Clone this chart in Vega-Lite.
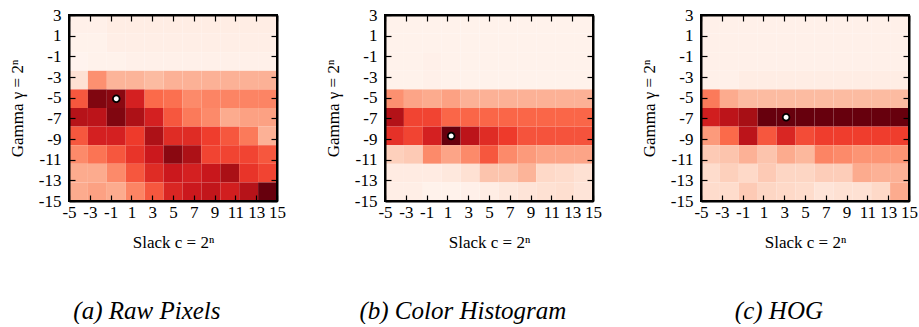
{
"$schema": "https://vega.github.io/schema/vega-lite/v6.json",
"padding": {"left": 8, "top": 6, "right": 0, "bottom": 0},
"spacing": 38,
"config": {
  "font": "Liberation Serif",
  "view": {"stroke": null},
  "axis": {"zindex": 2, "domain": true, "domainColor": "black", "domainWidth": 2, "ticks": true, "tickColor": "black", "tickWidth": 1.2, "tickSize": -6, "labelColor": "black", "labelFontSize": 17, "labelFont": "Liberation Serif", "titleFont": "Liberation Serif", "titleFontSize": 17, "titleFontWeight": "normal", "titleColor": "black", "grid": false, "labelOverlap": false, "labelFlush": false},
  "axisX": {"titlePadding": 14, "labelPadding": 9},
  "axisY": {"titlePadding": 12, "labelPadding": 14},
  "title": {"font": "Liberation Serif", "fontSize": 25, "fontStyle": "italic", "fontWeight": "normal", "color": "black", "orient": "bottom", "anchor": "middle", "frame": "bounds", "offset": 49}
},
"datasets": {
  "best": [
    {"p": "a", "c": -1, "g": -5},
    {"p": "b", "c": 1, "g": -9},
    {"p": "c", "c": 3, "g": -7}
  ],
  "cells": [
{"p":"a","c":-5,"g":3,"v":0.03},{"p":"a","c":-3,"g":3,"v":0.03},{"p":"a","c":-1,"g":3,"v":0.05},{"p":"a","c":1,"g":3,"v":0.05},{"p":"a","c":3,"g":3,"v":0.05},{"p":"a","c":5,"g":3,"v":0.05},{"p":"a","c":7,"g":3,"v":0.05},{"p":"a","c":9,"g":3,"v":0.05},{"p":"a","c":11,"g":3,"v":0.05},{"p":"a","c":13,"g":3,"v":0.05},{"p":"a","c":15,"g":3,"v":0.05},
{"p":"a","c":-5,"g":1,"v":0.02},{"p":"a","c":-3,"g":1,"v":0.02},{"p":"a","c":-1,"g":1,"v":0.04},{"p":"a","c":1,"g":1,"v":0.04},{"p":"a","c":3,"g":1,"v":0.04},{"p":"a","c":5,"g":1,"v":0.04},{"p":"a","c":7,"g":1,"v":0.04},{"p":"a","c":9,"g":1,"v":0.04},{"p":"a","c":11,"g":1,"v":0.04},{"p":"a","c":13,"g":1,"v":0.04},{"p":"a","c":15,"g":1,"v":0.04},
{"p":"a","c":-5,"g":-1,"v":0.01},{"p":"a","c":-3,"g":-1,"v":0.02},{"p":"a","c":-1,"g":-1,"v":0.02},{"p":"a","c":1,"g":-1,"v":0.03},{"p":"a","c":3,"g":-1,"v":0.03},{"p":"a","c":5,"g":-1,"v":0.03},{"p":"a","c":7,"g":-1,"v":0.03},{"p":"a","c":9,"g":-1,"v":0.03},{"p":"a","c":11,"g":-1,"v":0.03},{"p":"a","c":13,"g":-1,"v":0.03},{"p":"a","c":15,"g":-1,"v":0.03},
{"p":"a","c":-5,"g":-3,"v":0.12},{"p":"a","c":-3,"g":-3,"v":0.38},{"p":"a","c":-1,"g":-3,"v":0.27},{"p":"a","c":1,"g":-3,"v":0.27},{"p":"a","c":3,"g":-3,"v":0.25},{"p":"a","c":5,"g":-3,"v":0.28},{"p":"a","c":7,"g":-3,"v":0.28},{"p":"a","c":9,"g":-3,"v":0.28},{"p":"a","c":11,"g":-3,"v":0.28},{"p":"a","c":13,"g":-3,"v":0.28},{"p":"a","c":15,"g":-3,"v":0.28},
{"p":"a","c":-5,"g":-5,"v":0.55},{"p":"a","c":-3,"g":-5,"v":0.95},{"p":"a","c":-1,"g":-5,"v":0.93},{"p":"a","c":1,"g":-5,"v":0.72},{"p":"a","c":3,"g":-5,"v":0.5},{"p":"a","c":5,"g":-5,"v":0.48},{"p":"a","c":7,"g":-5,"v":0.4},{"p":"a","c":9,"g":-5,"v":0.42},{"p":"a","c":11,"g":-5,"v":0.42},{"p":"a","c":13,"g":-5,"v":0.42},{"p":"a","c":15,"g":-5,"v":0.42},
{"p":"a","c":-5,"g":-7,"v":0.82},{"p":"a","c":-3,"g":-7,"v":0.8},{"p":"a","c":-1,"g":-7,"v":0.95},{"p":"a","c":1,"g":-7,"v":0.85},{"p":"a","c":3,"g":-7,"v":0.72},{"p":"a","c":5,"g":-7,"v":0.55},{"p":"a","c":7,"g":-7,"v":0.45},{"p":"a","c":9,"g":-7,"v":0.4},{"p":"a","c":11,"g":-7,"v":0.3},{"p":"a","c":13,"g":-7,"v":0.33},{"p":"a","c":15,"g":-7,"v":0.33},
{"p":"a","c":-5,"g":-9,"v":0.55},{"p":"a","c":-3,"g":-9,"v":0.72},{"p":"a","c":-1,"g":-9,"v":0.72},{"p":"a","c":1,"g":-9,"v":0.63},{"p":"a","c":3,"g":-9,"v":0.85},{"p":"a","c":5,"g":-9,"v":0.68},{"p":"a","c":7,"g":-9,"v":0.68},{"p":"a","c":9,"g":-9,"v":0.62},{"p":"a","c":11,"g":-9,"v":0.55},{"p":"a","c":13,"g":-9,"v":0.45},{"p":"a","c":15,"g":-9,"v":0.28},
{"p":"a","c":-5,"g":-11,"v":0.4},{"p":"a","c":-3,"g":-11,"v":0.47},{"p":"a","c":-1,"g":-11,"v":0.55},{"p":"a","c":1,"g":-11,"v":0.65},{"p":"a","c":3,"g":-11,"v":0.75},{"p":"a","c":5,"g":-11,"v":0.93},{"p":"a","c":7,"g":-11,"v":0.85},{"p":"a","c":9,"g":-11,"v":0.6},{"p":"a","c":11,"g":-11,"v":0.6},{"p":"a","c":13,"g":-11,"v":0.6},{"p":"a","c":15,"g":-11,"v":0.55},
{"p":"a","c":-5,"g":-13,"v":0.3},{"p":"a","c":-3,"g":-13,"v":0.3},{"p":"a","c":-1,"g":-13,"v":0.4},{"p":"a","c":1,"g":-13,"v":0.55},{"p":"a","c":3,"g":-13,"v":0.68},{"p":"a","c":5,"g":-13,"v":0.75},{"p":"a","c":7,"g":-13,"v":0.72},{"p":"a","c":9,"g":-13,"v":0.76},{"p":"a","c":11,"g":-13,"v":0.86},{"p":"a","c":13,"g":-13,"v":0.65},{"p":"a","c":15,"g":-13,"v":0.6},
{"p":"a","c":-5,"g":-15,"v":0.3},{"p":"a","c":-3,"g":-15,"v":0.33},{"p":"a","c":-1,"g":-15,"v":0.3},{"p":"a","c":1,"g":-15,"v":0.42},{"p":"a","c":3,"g":-15,"v":0.55},{"p":"a","c":5,"g":-15,"v":0.7},{"p":"a","c":7,"g":-15,"v":0.75},{"p":"a","c":9,"g":-15,"v":0.78},{"p":"a","c":11,"g":-15,"v":0.73},{"p":"a","c":13,"g":-15,"v":0.82},{"p":"a","c":15,"g":-15,"v":1.0},
{"p":"b","c":-5,"g":3,"v":0.02},{"p":"b","c":-3,"g":3,"v":0.02},{"p":"b","c":-1,"g":3,"v":0.02},{"p":"b","c":1,"g":3,"v":0.02},{"p":"b","c":3,"g":3,"v":0.02},{"p":"b","c":5,"g":3,"v":0.02},{"p":"b","c":7,"g":3,"v":0.02},{"p":"b","c":9,"g":3,"v":0.02},{"p":"b","c":11,"g":3,"v":0.02},{"p":"b","c":13,"g":3,"v":0.02},{"p":"b","c":15,"g":3,"v":0.02},
{"p":"b","c":-5,"g":1,"v":0.02},{"p":"b","c":-3,"g":1,"v":0.02},{"p":"b","c":-1,"g":1,"v":0.02},{"p":"b","c":1,"g":1,"v":0.02},{"p":"b","c":3,"g":1,"v":0.02},{"p":"b","c":5,"g":1,"v":0.02},{"p":"b","c":7,"g":1,"v":0.02},{"p":"b","c":9,"g":1,"v":0.02},{"p":"b","c":11,"g":1,"v":0.02},{"p":"b","c":13,"g":1,"v":0.02},{"p":"b","c":15,"g":1,"v":0.02},
{"p":"b","c":-5,"g":-1,"v":0.02},{"p":"b","c":-3,"g":-1,"v":0.02},{"p":"b","c":-1,"g":-1,"v":0.03},{"p":"b","c":1,"g":-1,"v":0.02},{"p":"b","c":3,"g":-1,"v":0.02},{"p":"b","c":5,"g":-1,"v":0.02},{"p":"b","c":7,"g":-1,"v":0.02},{"p":"b","c":9,"g":-1,"v":0.02},{"p":"b","c":11,"g":-1,"v":0.02},{"p":"b","c":13,"g":-1,"v":0.02},{"p":"b","c":15,"g":-1,"v":0.02},
{"p":"b","c":-5,"g":-3,"v":0.02},{"p":"b","c":-3,"g":-3,"v":0.02},{"p":"b","c":-1,"g":-3,"v":0.03},{"p":"b","c":1,"g":-3,"v":0.02},{"p":"b","c":3,"g":-3,"v":0.02},{"p":"b","c":5,"g":-3,"v":0.02},{"p":"b","c":7,"g":-3,"v":0.02},{"p":"b","c":9,"g":-3,"v":0.02},{"p":"b","c":11,"g":-3,"v":0.02},{"p":"b","c":13,"g":-3,"v":0.02},{"p":"b","c":15,"g":-3,"v":0.02},
{"p":"b","c":-5,"g":-5,"v":0.38},{"p":"b","c":-3,"g":-5,"v":0.32},{"p":"b","c":-1,"g":-5,"v":0.3},{"p":"b","c":1,"g":-5,"v":0.33},{"p":"b","c":3,"g":-5,"v":0.28},{"p":"b","c":5,"g":-5,"v":0.28},{"p":"b","c":7,"g":-5,"v":0.28},{"p":"b","c":9,"g":-5,"v":0.28},{"p":"b","c":11,"g":-5,"v":0.28},{"p":"b","c":13,"g":-5,"v":0.28},{"p":"b","c":15,"g":-5,"v":0.28},
{"p":"b","c":-5,"g":-7,"v":0.83},{"p":"b","c":-3,"g":-7,"v":0.6},{"p":"b","c":-1,"g":-7,"v":0.6},{"p":"b","c":1,"g":-7,"v":0.51},{"p":"b","c":3,"g":-7,"v":0.51},{"p":"b","c":5,"g":-7,"v":0.51},{"p":"b","c":7,"g":-7,"v":0.51},{"p":"b","c":9,"g":-7,"v":0.51},{"p":"b","c":11,"g":-7,"v":0.51},{"p":"b","c":13,"g":-7,"v":0.51},{"p":"b","c":15,"g":-7,"v":0.51},
{"p":"b","c":-5,"g":-9,"v":0.66},{"p":"b","c":-3,"g":-9,"v":0.6},{"p":"b","c":-1,"g":-9,"v":0.72},{"p":"b","c":1,"g":-9,"v":1.0},{"p":"b","c":3,"g":-9,"v":0.8},{"p":"b","c":5,"g":-9,"v":0.68},{"p":"b","c":7,"g":-9,"v":0.63},{"p":"b","c":9,"g":-9,"v":0.56},{"p":"b","c":11,"g":-9,"v":0.56},{"p":"b","c":13,"g":-9,"v":0.56},{"p":"b","c":15,"g":-9,"v":0.56},
{"p":"b","c":-5,"g":-11,"v":0.18},{"p":"b","c":-3,"g":-11,"v":0.2},{"p":"b","c":-1,"g":-11,"v":0.4},{"p":"b","c":1,"g":-11,"v":0.32},{"p":"b","c":3,"g":-11,"v":0.4},{"p":"b","c":5,"g":-11,"v":0.55},{"p":"b","c":7,"g":-11,"v":0.4},{"p":"b","c":9,"g":-11,"v":0.35},{"p":"b","c":11,"g":-11,"v":0.32},{"p":"b","c":13,"g":-11,"v":0.32},{"p":"b","c":15,"g":-11,"v":0.32},
{"p":"b","c":-5,"g":-13,"v":0.06},{"p":"b","c":-3,"g":-13,"v":0.06},{"p":"b","c":-1,"g":-13,"v":0.06},{"p":"b","c":1,"g":-13,"v":0.08},{"p":"b","c":3,"g":-13,"v":0.12},{"p":"b","c":5,"g":-13,"v":0.22},{"p":"b","c":7,"g":-13,"v":0.22},{"p":"b","c":9,"g":-13,"v":0.27},{"p":"b","c":11,"g":-13,"v":0.15},{"p":"b","c":13,"g":-13,"v":0.14},{"p":"b","c":15,"g":-13,"v":0.12},
{"p":"b","c":-5,"g":-15,"v":0.04},{"p":"b","c":-3,"g":-15,"v":0.04},{"p":"b","c":-1,"g":-15,"v":0.02},{"p":"b","c":1,"g":-15,"v":0.02},{"p":"b","c":3,"g":-15,"v":0.03},{"p":"b","c":5,"g":-15,"v":0.05},{"p":"b","c":7,"g":-15,"v":0.08},{"p":"b","c":9,"g":-15,"v":0.1},{"p":"b","c":11,"g":-15,"v":0.12},{"p":"b","c":13,"g":-15,"v":0.13},{"p":"b","c":15,"g":-15,"v":0.1},
{"p":"c","c":-5,"g":3,"v":0.03},{"p":"c","c":-3,"g":3,"v":0.03},{"p":"c","c":-1,"g":3,"v":0.03},{"p":"c","c":1,"g":3,"v":0.03},{"p":"c","c":3,"g":3,"v":0.03},{"p":"c","c":5,"g":3,"v":0.03},{"p":"c","c":7,"g":3,"v":0.03},{"p":"c","c":9,"g":3,"v":0.03},{"p":"c","c":11,"g":3,"v":0.03},{"p":"c","c":13,"g":3,"v":0.03},{"p":"c","c":15,"g":3,"v":0.03},
{"p":"c","c":-5,"g":1,"v":0.03},{"p":"c","c":-3,"g":1,"v":0.03},{"p":"c","c":-1,"g":1,"v":0.03},{"p":"c","c":1,"g":1,"v":0.03},{"p":"c","c":3,"g":1,"v":0.03},{"p":"c","c":5,"g":1,"v":0.03},{"p":"c","c":7,"g":1,"v":0.03},{"p":"c","c":9,"g":1,"v":0.03},{"p":"c","c":11,"g":1,"v":0.03},{"p":"c","c":13,"g":1,"v":0.03},{"p":"c","c":15,"g":1,"v":0.03},
{"p":"c","c":-5,"g":-1,"v":0.03},{"p":"c","c":-3,"g":-1,"v":0.03},{"p":"c","c":-1,"g":-1,"v":0.03},{"p":"c","c":1,"g":-1,"v":0.03},{"p":"c","c":3,"g":-1,"v":0.03},{"p":"c","c":5,"g":-1,"v":0.03},{"p":"c","c":7,"g":-1,"v":0.03},{"p":"c","c":9,"g":-1,"v":0.03},{"p":"c","c":11,"g":-1,"v":0.03},{"p":"c","c":13,"g":-1,"v":0.03},{"p":"c","c":15,"g":-1,"v":0.03},
{"p":"c","c":-5,"g":-3,"v":0.03},{"p":"c","c":-3,"g":-3,"v":0.03},{"p":"c","c":-1,"g":-3,"v":0.05},{"p":"c","c":1,"g":-3,"v":0.05},{"p":"c","c":3,"g":-3,"v":0.05},{"p":"c","c":5,"g":-3,"v":0.05},{"p":"c","c":7,"g":-3,"v":0.05},{"p":"c","c":9,"g":-3,"v":0.05},{"p":"c","c":11,"g":-3,"v":0.05},{"p":"c","c":13,"g":-3,"v":0.05},{"p":"c","c":15,"g":-3,"v":0.05},
{"p":"c","c":-5,"g":-5,"v":0.45},{"p":"c","c":-3,"g":-5,"v":0.3},{"p":"c","c":-1,"g":-5,"v":0.25},{"p":"c","c":1,"g":-5,"v":0.25},{"p":"c","c":3,"g":-5,"v":0.25},{"p":"c","c":5,"g":-5,"v":0.25},{"p":"c","c":7,"g":-5,"v":0.25},{"p":"c","c":9,"g":-5,"v":0.25},{"p":"c","c":11,"g":-5,"v":0.25},{"p":"c","c":13,"g":-5,"v":0.25},{"p":"c","c":15,"g":-5,"v":0.25},
{"p":"c","c":-5,"g":-7,"v":0.73},{"p":"c","c":-3,"g":-7,"v":0.8},{"p":"c","c":-1,"g":-7,"v":0.87},{"p":"c","c":1,"g":-7,"v":1.0},{"p":"c","c":3,"g":-7,"v":1.0},{"p":"c","c":5,"g":-7,"v":1.0},{"p":"c","c":7,"g":-7,"v":1.0},{"p":"c","c":9,"g":-7,"v":1.0},{"p":"c","c":11,"g":-7,"v":1.0},{"p":"c","c":13,"g":-7,"v":1.0},{"p":"c","c":15,"g":-7,"v":1.0},
{"p":"c","c":-5,"g":-9,"v":0.35},{"p":"c","c":-3,"g":-9,"v":0.5},{"p":"c","c":-1,"g":-9,"v":0.8},{"p":"c","c":1,"g":-9,"v":0.55},{"p":"c","c":3,"g":-9,"v":0.7},{"p":"c","c":5,"g":-9,"v":0.58},{"p":"c","c":7,"g":-9,"v":0.62},{"p":"c","c":9,"g":-9,"v":0.62},{"p":"c","c":11,"g":-9,"v":0.62},{"p":"c","c":13,"g":-9,"v":0.62},{"p":"c","c":15,"g":-9,"v":0.62},
{"p":"c","c":-5,"g":-11,"v":0.2},{"p":"c","c":-3,"g":-11,"v":0.22},{"p":"c","c":-1,"g":-11,"v":0.28},{"p":"c","c":1,"g":-11,"v":0.22},{"p":"c","c":3,"g":-11,"v":0.3},{"p":"c","c":5,"g":-11,"v":0.26},{"p":"c","c":7,"g":-11,"v":0.42},{"p":"c","c":9,"g":-11,"v":0.4},{"p":"c","c":11,"g":-11,"v":0.37},{"p":"c","c":13,"g":-11,"v":0.37},{"p":"c","c":15,"g":-11,"v":0.37},
{"p":"c","c":-5,"g":-13,"v":0.14},{"p":"c","c":-3,"g":-13,"v":0.18},{"p":"c","c":-1,"g":-13,"v":0.15},{"p":"c","c":1,"g":-13,"v":0.2},{"p":"c","c":3,"g":-13,"v":0.16},{"p":"c","c":5,"g":-13,"v":0.16},{"p":"c","c":7,"g":-13,"v":0.19},{"p":"c","c":9,"g":-13,"v":0.19},{"p":"c","c":11,"g":-13,"v":0.3},{"p":"c","c":13,"g":-13,"v":0.28},{"p":"c","c":15,"g":-13,"v":0.28},
{"p":"c","c":-5,"g":-15,"v":0.14},{"p":"c","c":-3,"g":-15,"v":0.14},{"p":"c","c":-1,"g":-15,"v":0.2},{"p":"c","c":1,"g":-15,"v":0.16},{"p":"c","c":3,"g":-15,"v":0.15},{"p":"c","c":5,"g":-15,"v":0.14},{"p":"c","c":7,"g":-15,"v":0.1},{"p":"c","c":9,"g":-15,"v":0.12},{"p":"c","c":11,"g":-15,"v":0.12},{"p":"c","c":13,"g":-15,"v":0.15},{"p":"c","c":15,"g":-15,"v":0.3}
  ]
},
"hconcat": [
  {
    "width": 208, "height": 186,
    "title": "(a) Raw Pixels",
    "layer": [
      {"layer": [
        {"data": {"name": "cells"}, "transform": [{"filter": "datum.p == 'a'"}], "mark": {"type": "rect"},
         "encoding": {
           "x": {"field": "c", "type": "ordinal", "axis": null, "scale": {"paddingInner": 0, "paddingOuter": 0}},
           "y": {"field": "g", "type": "ordinal", "sort": "descending", "axis": null, "scale": {"paddingInner": 0, "paddingOuter": 0}},
           "color": {"field": "v", "type": "quantitative", "scale": {"domain": [0, 0.125, 0.25, 0.375, 0.5, 0.625, 0.75, 0.875, 1], "range": ["#fff5f0", "#fee0d2", "#fcbba1", "#fc9272", "#fb6a4a", "#ef3b2c", "#cb181d", "#a50f15", "#67000d"], "interpolate": "rgb"}, "legend": null}}},
        {"data": {"name": "best"}, "transform": [{"filter": "datum.p == 'a'"}], "mark": {"type": "point", "filled": true, "fill": "white", "stroke": "black", "strokeWidth": 1.8, "size": 45, "opacity": 1},
         "encoding": {
           "x": {"field": "c", "type": "ordinal"},
           "y": {"field": "g", "type": "ordinal", "sort": "descending"}}}
      ]},
      {"data": {"name": "best"}, "transform": [{"filter": "datum.p == 'a'"}], "mark": {"type": "point", "opacity": 0},
       "encoding": {
         "x": {"field": "c", "type": "quantitative", "scale": {"domain": [-5, 15], "nice": false, "zero": false}, "axis": {"orient": "top", "zindex": 2, "values": [-5, -3, -1, 1, 3, 5, 7, 9, 11, 13, 15], "labels": false, "title": null}},
         "y": {"field": "g", "type": "quantitative", "scale": {"domain": [-15, 3], "nice": false, "zero": false}, "axis": {"orient": "right", "zindex": 2, "values": [3, 1, -1, -3, -5, -7, -9, -11, -13, -15], "labels": false, "title": null}}}},
      {"data": {"name": "best"}, "transform": [{"filter": "datum.p == 'a'"}], "mark": {"type": "rect", "fill": null, "fillOpacity": 0, "stroke": "black", "strokeWidth": 2},
       "encoding": {
         "x": {"datum": -5, "type": "quantitative", "scale": {"domain": [-5, 15], "nice": false, "zero": false}, "axis": {"orient": "bottom", "zindex": 2, "values": [-5, -3, -1, 1, 3, 5, 7, 9, 11, 13, 15], "labelExpr": "datum.value < 0 ? '-' + abs(datum.value) : '' + datum.value", "title": "Slack c = 2ⁿ"}},
         "x2": {"datum": 15},
         "y": {"datum": -15, "type": "quantitative", "scale": {"domain": [-15, 3], "nice": false, "zero": false}, "axis": {"orient": "left", "zindex": 2, "values": [3, 1, -1, -3, -5, -7, -9, -11, -13, -15], "labelExpr": "datum.value < 0 ? '-' + abs(datum.value) : '' + datum.value", "title": "Gamma γ = 2ⁿ"}},
         "y2": {"datum": 3}}}
    ],
    "resolve": {"scale": {"x": "independent", "y": "independent"}, "axis": {"x": "independent", "y": "independent"}}
  },
  {
    "width": 208, "height": 186,
    "title": "(b) Color Histogram",
    "layer": [
      {"layer": [
        {"data": {"name": "cells"}, "transform": [{"filter": "datum.p == 'b'"}], "mark": {"type": "rect"},
         "encoding": {
           "x": {"field": "c", "type": "ordinal", "axis": null, "scale": {"paddingInner": 0, "paddingOuter": 0}},
           "y": {"field": "g", "type": "ordinal", "sort": "descending", "axis": null, "scale": {"paddingInner": 0, "paddingOuter": 0}},
           "color": {"field": "v", "type": "quantitative", "scale": {"domain": [0, 0.125, 0.25, 0.375, 0.5, 0.625, 0.75, 0.875, 1], "range": ["#fff5f0", "#fee0d2", "#fcbba1", "#fc9272", "#fb6a4a", "#ef3b2c", "#cb181d", "#a50f15", "#67000d"], "interpolate": "rgb"}, "legend": null}}},
        {"data": {"name": "best"}, "transform": [{"filter": "datum.p == 'b'"}], "mark": {"type": "point", "filled": true, "fill": "white", "stroke": "black", "strokeWidth": 1.8, "size": 45, "opacity": 1},
         "encoding": {
           "x": {"field": "c", "type": "ordinal"},
           "y": {"field": "g", "type": "ordinal", "sort": "descending"}}}
      ]},
      {"data": {"name": "best"}, "transform": [{"filter": "datum.p == 'b'"}], "mark": {"type": "point", "opacity": 0},
       "encoding": {
         "x": {"field": "c", "type": "quantitative", "scale": {"domain": [-5, 15], "nice": false, "zero": false}, "axis": {"orient": "top", "zindex": 2, "values": [-5, -3, -1, 1, 3, 5, 7, 9, 11, 13, 15], "labels": false, "title": null}},
         "y": {"field": "g", "type": "quantitative", "scale": {"domain": [-15, 3], "nice": false, "zero": false}, "axis": {"orient": "right", "zindex": 2, "values": [3, 1, -1, -3, -5, -7, -9, -11, -13, -15], "labels": false, "title": null}}}},
      {"data": {"name": "best"}, "transform": [{"filter": "datum.p == 'b'"}], "mark": {"type": "rect", "fill": null, "fillOpacity": 0, "stroke": "black", "strokeWidth": 2},
       "encoding": {
         "x": {"datum": -5, "type": "quantitative", "scale": {"domain": [-5, 15], "nice": false, "zero": false}, "axis": {"orient": "bottom", "zindex": 2, "values": [-5, -3, -1, 1, 3, 5, 7, 9, 11, 13, 15], "labelExpr": "datum.value < 0 ? '-' + abs(datum.value) : '' + datum.value", "title": "Slack c = 2ⁿ"}},
         "x2": {"datum": 15},
         "y": {"datum": -15, "type": "quantitative", "scale": {"domain": [-15, 3], "nice": false, "zero": false}, "axis": {"orient": "left", "zindex": 2, "values": [3, 1, -1, -3, -5, -7, -9, -11, -13, -15], "labelExpr": "datum.value < 0 ? '-' + abs(datum.value) : '' + datum.value", "title": "Gamma γ = 2ⁿ"}},
         "y2": {"datum": 3}}}
    ],
    "resolve": {"scale": {"x": "independent", "y": "independent"}, "axis": {"x": "independent", "y": "independent"}}
  },
  {
    "width": 208, "height": 186,
    "title": "(c) HOG",
    "layer": [
      {"layer": [
        {"data": {"name": "cells"}, "transform": [{"filter": "datum.p == 'c'"}], "mark": {"type": "rect"},
         "encoding": {
           "x": {"field": "c", "type": "ordinal", "axis": null, "scale": {"paddingInner": 0, "paddingOuter": 0}},
           "y": {"field": "g", "type": "ordinal", "sort": "descending", "axis": null, "scale": {"paddingInner": 0, "paddingOuter": 0}},
           "color": {"field": "v", "type": "quantitative", "scale": {"domain": [0, 0.125, 0.25, 0.375, 0.5, 0.625, 0.75, 0.875, 1], "range": ["#fff5f0", "#fee0d2", "#fcbba1", "#fc9272", "#fb6a4a", "#ef3b2c", "#cb181d", "#a50f15", "#67000d"], "interpolate": "rgb"}, "legend": null}}},
        {"data": {"name": "best"}, "transform": [{"filter": "datum.p == 'c'"}], "mark": {"type": "point", "filled": true, "fill": "white", "stroke": "black", "strokeWidth": 1.8, "size": 45, "opacity": 1},
         "encoding": {
           "x": {"field": "c", "type": "ordinal"},
           "y": {"field": "g", "type": "ordinal", "sort": "descending"}}}
      ]},
      {"data": {"name": "best"}, "transform": [{"filter": "datum.p == 'c'"}], "mark": {"type": "point", "opacity": 0},
       "encoding": {
         "x": {"field": "c", "type": "quantitative", "scale": {"domain": [-5, 15], "nice": false, "zero": false}, "axis": {"orient": "top", "zindex": 2, "values": [-5, -3, -1, 1, 3, 5, 7, 9, 11, 13, 15], "labels": false, "title": null}},
         "y": {"field": "g", "type": "quantitative", "scale": {"domain": [-15, 3], "nice": false, "zero": false}, "axis": {"orient": "right", "zindex": 2, "values": [3, 1, -1, -3, -5, -7, -9, -11, -13, -15], "labels": false, "title": null}}}},
      {"data": {"name": "best"}, "transform": [{"filter": "datum.p == 'c'"}], "mark": {"type": "rect", "fill": null, "fillOpacity": 0, "stroke": "black", "strokeWidth": 2},
       "encoding": {
         "x": {"datum": -5, "type": "quantitative", "scale": {"domain": [-5, 15], "nice": false, "zero": false}, "axis": {"orient": "bottom", "zindex": 2, "values": [-5, -3, -1, 1, 3, 5, 7, 9, 11, 13, 15], "labelExpr": "datum.value < 0 ? '-' + abs(datum.value) : '' + datum.value", "title": "Slack c = 2ⁿ"}},
         "x2": {"datum": 15},
         "y": {"datum": -15, "type": "quantitative", "scale": {"domain": [-15, 3], "nice": false, "zero": false}, "axis": {"orient": "left", "zindex": 2, "values": [3, 1, -1, -3, -5, -7, -9, -11, -13, -15], "labelExpr": "datum.value < 0 ? '-' + abs(datum.value) : '' + datum.value", "title": "Gamma γ = 2ⁿ"}},
         "y2": {"datum": 3}}}
    ],
    "resolve": {"scale": {"x": "independent", "y": "independent"}, "axis": {"x": "independent", "y": "independent"}}
  }
]
}
